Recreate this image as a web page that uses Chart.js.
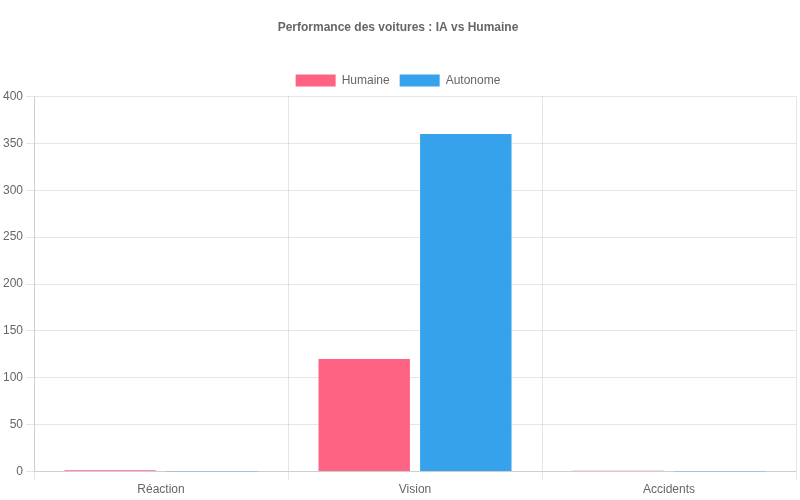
<!DOCTYPE html>
<html><head><meta charset="utf-8">
<script src="https://cdn.jsdelivr.net/npm/chart.js@4"></script>
<style>body{margin:0;background:#fff}#wrap{width:800px;height:500px}</style>
</head><body><div id="wrap"><canvas id="c"></canvas></div>
<script>
const labels = ['Réaction','Vision','Accidents'];
const humaine = [1.5, 120, 1];
const autonome = [0.1, 360, 0.2];

Chart.defaults.font.family = 'Liberation Sans, Arial, sans-serif';
new Chart(document.getElementById('c'), {
  type:'bar',
  data:{labels, datasets:[
    {label:'Humaine', data:humaine, backgroundColor:'#ff6384'},
    {label:'Autonome', data:autonome, backgroundColor:'#36a2eb'}
  ]},
  options:{
    responsive:true, maintainAspectRatio:false, animation:false,
    layout:{padding:{top:10,right:4}},
    plugins:{
      title:{display:true, text:'Performance des voitures : IA vs Humaine', color:'#666', font:{size:12,weight:'bold'}, padding:{top:10,bottom:30}},
      legend:{labels:{color:'#666', boxWidth:40}}
    },
    scales:{
      x:{ticks:{color:'#666'}},
      y:{min:0, max:400, ticks:{stepSize:50, color:'#666'}}
    }
  }
});
</script></body></html>
